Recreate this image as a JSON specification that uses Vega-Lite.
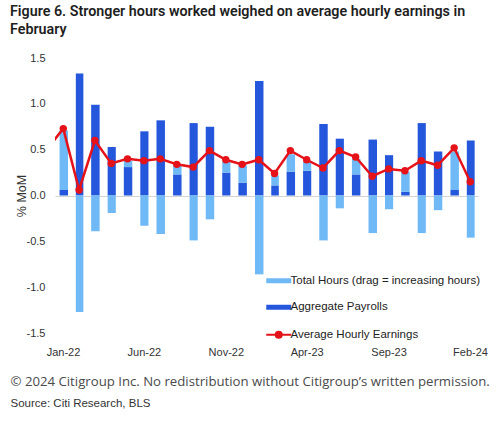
{
  "$schema": "https://vega.github.io/schema/vega-lite/v6.json",
  "width": 423,
  "height": 275,
  "autosize": {"type": "none"},
  "padding": {"left": 55, "top": 58, "right": 22, "bottom": 90},
  "background": "white",
  "title": {
    "text": ["Figure 6. Stronger hours worked weighed on average hourly earnings in", "February"],
    "anchor": "start",
    "frame": "group",
    "dx": -45,
    "offset": 15,
    "font": "Roboto",
    "fontSize": 14.3,
    "fontWeight": 600,
    "color": "#1e1e1e",
    "lineHeight": 18
  },
  "datasets": {
    "mom": [
      {"month": "2021-12", "series": "Average Hourly Earnings", "value": 0.50},
      {"month": "2022-01", "series": "Aggregate Payrolls", "value": 0.06},
      {"month": "2022-01", "series": "Total Hours (drag = increasing hours)", "value": 0.65},
      {"month": "2022-01", "series": "Average Hourly Earnings", "value": 0.73},
      {"month": "2022-02", "series": "Aggregate Payrolls", "value": 1.33},
      {"month": "2022-02", "series": "Total Hours (drag = increasing hours)", "value": -1.27},
      {"month": "2022-02", "series": "Average Hourly Earnings", "value": 0.06},
      {"month": "2022-03", "series": "Aggregate Payrolls", "value": 0.99},
      {"month": "2022-03", "series": "Total Hours (drag = increasing hours)", "value": -0.39},
      {"month": "2022-03", "series": "Average Hourly Earnings", "value": 0.60},
      {"month": "2022-04", "series": "Aggregate Payrolls", "value": 0.53},
      {"month": "2022-04", "series": "Total Hours (drag = increasing hours)", "value": -0.19},
      {"month": "2022-04", "series": "Average Hourly Earnings", "value": 0.35},
      {"month": "2022-05", "series": "Aggregate Payrolls", "value": 0.31},
      {"month": "2022-05", "series": "Total Hours (drag = increasing hours)", "value": 0.07},
      {"month": "2022-05", "series": "Average Hourly Earnings", "value": 0.40},
      {"month": "2022-06", "series": "Aggregate Payrolls", "value": 0.70},
      {"month": "2022-06", "series": "Total Hours (drag = increasing hours)", "value": -0.33},
      {"month": "2022-06", "series": "Average Hourly Earnings", "value": 0.38},
      {"month": "2022-07", "series": "Aggregate Payrolls", "value": 0.82},
      {"month": "2022-07", "series": "Total Hours (drag = increasing hours)", "value": -0.42},
      {"month": "2022-07", "series": "Average Hourly Earnings", "value": 0.40},
      {"month": "2022-08", "series": "Aggregate Payrolls", "value": 0.23},
      {"month": "2022-08", "series": "Total Hours (drag = increasing hours)", "value": 0.10},
      {"month": "2022-08", "series": "Average Hourly Earnings", "value": 0.34},
      {"month": "2022-09", "series": "Aggregate Payrolls", "value": 0.79},
      {"month": "2022-09", "series": "Total Hours (drag = increasing hours)", "value": -0.49},
      {"month": "2022-09", "series": "Average Hourly Earnings", "value": 0.31},
      {"month": "2022-10", "series": "Aggregate Payrolls", "value": 0.75},
      {"month": "2022-10", "series": "Total Hours (drag = increasing hours)", "value": -0.26},
      {"month": "2022-10", "series": "Average Hourly Earnings", "value": 0.49},
      {"month": "2022-11", "series": "Aggregate Payrolls", "value": 0.25},
      {"month": "2022-11", "series": "Total Hours (drag = increasing hours)", "value": 0.12},
      {"month": "2022-11", "series": "Average Hourly Earnings", "value": 0.39},
      {"month": "2022-12", "series": "Aggregate Payrolls", "value": 0.14},
      {"month": "2022-12", "series": "Total Hours (drag = increasing hours)", "value": 0.19},
      {"month": "2022-12", "series": "Average Hourly Earnings", "value": 0.34},
      {"month": "2023-01", "series": "Aggregate Payrolls", "value": 1.25},
      {"month": "2023-01", "series": "Total Hours (drag = increasing hours)", "value": -0.86},
      {"month": "2023-01", "series": "Average Hourly Earnings", "value": 0.39},
      {"month": "2023-02", "series": "Aggregate Payrolls", "value": 0.11},
      {"month": "2023-02", "series": "Total Hours (drag = increasing hours)", "value": 0.11},
      {"month": "2023-02", "series": "Average Hourly Earnings", "value": 0.24},
      {"month": "2023-03", "series": "Aggregate Payrolls", "value": 0.26},
      {"month": "2023-03", "series": "Total Hours (drag = increasing hours)", "value": 0.19},
      {"month": "2023-03", "series": "Average Hourly Earnings", "value": 0.49},
      {"month": "2023-04", "series": "Aggregate Payrolls", "value": 0.27},
      {"month": "2023-04", "series": "Total Hours (drag = increasing hours)", "value": 0.10},
      {"month": "2023-04", "series": "Average Hourly Earnings", "value": 0.39},
      {"month": "2023-05", "series": "Aggregate Payrolls", "value": 0.78},
      {"month": "2023-05", "series": "Total Hours (drag = increasing hours)", "value": -0.49},
      {"month": "2023-05", "series": "Average Hourly Earnings", "value": 0.30},
      {"month": "2023-06", "series": "Aggregate Payrolls", "value": 0.62},
      {"month": "2023-06", "series": "Total Hours (drag = increasing hours)", "value": -0.14},
      {"month": "2023-06", "series": "Average Hourly Earnings", "value": 0.49},
      {"month": "2023-07", "series": "Aggregate Payrolls", "value": 0.23},
      {"month": "2023-07", "series": "Total Hours (drag = increasing hours)", "value": 0.17},
      {"month": "2023-07", "series": "Average Hourly Earnings", "value": 0.42},
      {"month": "2023-08", "series": "Aggregate Payrolls", "value": 0.61},
      {"month": "2023-08", "series": "Total Hours (drag = increasing hours)", "value": -0.41},
      {"month": "2023-08", "series": "Average Hourly Earnings", "value": 0.21},
      {"month": "2023-09", "series": "Aggregate Payrolls", "value": 0.44},
      {"month": "2023-09", "series": "Total Hours (drag = increasing hours)", "value": -0.15},
      {"month": "2023-09", "series": "Average Hourly Earnings", "value": 0.29},
      {"month": "2023-10", "series": "Aggregate Payrolls", "value": 0.04},
      {"month": "2023-10", "series": "Total Hours (drag = increasing hours)", "value": 0.22},
      {"month": "2023-10", "series": "Average Hourly Earnings", "value": 0.27},
      {"month": "2023-11", "series": "Aggregate Payrolls", "value": 0.79},
      {"month": "2023-11", "series": "Total Hours (drag = increasing hours)", "value": -0.41},
      {"month": "2023-11", "series": "Average Hourly Earnings", "value": 0.38},
      {"month": "2023-12", "series": "Aggregate Payrolls", "value": 0.48},
      {"month": "2023-12", "series": "Total Hours (drag = increasing hours)", "value": -0.16},
      {"month": "2023-12", "series": "Average Hourly Earnings", "value": 0.33},
      {"month": "2024-01", "series": "Aggregate Payrolls", "value": 0.06},
      {"month": "2024-01", "series": "Total Hours (drag = increasing hours)", "value": 0.42},
      {"month": "2024-01", "series": "Average Hourly Earnings", "value": 0.52},
      {"month": "2024-02", "series": "Aggregate Payrolls", "value": 0.60},
      {"month": "2024-02", "series": "Total Hours (drag = increasing hours)", "value": -0.46},
      {"month": "2024-02", "series": "Average Hourly Earnings", "value": 0.15}
    ]
  },
  "data": {"name": "mom"},
  "config": {
    "view": {"stroke": null},
    "axis": {
      "labelFont": "Liberation Sans",
      "labelFontSize": 11,
      "labelColor": "#333333",
      "titleFont": "Liberation Sans",
      "titleFontWeight": "normal",
      "ticks": false,
      "domain": false
    }
  },
  "resolve": {"axis": {"x": "independent"}},
  "layer": [
    {
      "transform": [{"filter": "datum.series !== 'Average Hourly Earnings'"}],
      "mark": {"type": "bar", "width": {"band": 0.57}},
      "encoding": {
        "x": {
          "field": "month",
          "type": "temporal",
          "timeUnit": "utcyearmonth",
          "scale": {
            "domain": [
              {"year": 2022, "month": 1, "date": 1, "utc": true},
              {"year": 2024, "month": 3, "date": 1, "utc": true}
            ],
            "nice": false
          },
          "axis": {
            "orient": "bottom",
            "values": [
              {"year": 2022, "month": 1, "date": 16, "utc": true},
              {"year": 2022, "month": 6, "date": 16, "utc": true},
              {"year": 2022, "month": 11, "date": 16, "utc": true},
              {"year": 2023, "month": 4, "date": 16, "utc": true},
              {"year": 2023, "month": 9, "date": 16, "utc": true},
              {"year": 2024, "month": 2, "date": 15, "utc": true}
            ],
            "labelExpr": "utcFormat(datum.value, '%b-%y')",
            "grid": false,
            "labelPadding": 13,
            "title": "© 2024 Citigroup Inc. No redistribution without Citigroup’s written permission.",
            "titleFont": "Open Sans",
            "titleFontSize": 13.2,
            "titleColor": "#4a4a4a",
            "titleAnchor": "start",
            "titleAlign": "left",
            "titleBaseline": "alphabetic",
            "titleX": -45,
            "titleY": 52
          }
        },
        "y": {
          "field": "value",
          "type": "quantitative",
          "stack": "zero",
          "scale": {"domain": [-1.5, 1.5], "nice": false},
          "axis": {
            "title": "% MoM",
            "titleFontSize": 12.5,
            "titleColor": "#333333",
            "titlePadding": -2,
            "values": [-1.5, -1, -0.5, 0, 0.5, 1, 1.5],
            "labelExpr": "datum.value < 0 ? '-' + format(-datum.value, '.1f') : format(datum.value, '.1f')",
            "labelPadding": 10,
            "grid": true,
            "gridColor": {"condition": {"test": "datum.value === 0", "value": "#d4d4d4"}, "value": "transparent"},
            "gridWidth": 1.2
          }
        },
        "color": {
          "field": "series",
          "type": "nominal",
          "scale": {
            "domain": ["Total Hours (drag = increasing hours)", "Aggregate Payrolls", "Average Hourly Earnings"],
            "range": ["#6fb9f7", "#2457db", "#e5121a"]
          },
          "legend": {
            "title": null,
            "orient": "none",
            "legendX": 218,
            "legendY": 217,
            "padding": 0,
            "labelFont": "Liberation Sans",
            "labelFontSize": 11.5,
            "labelColor": "#222222",
            "labelOffset": 6,
            "labelLimit": 300,
            "rowPadding": 13.5,
            "symbolSize": 625,
            "encode": {
              "symbols": {
                "update": {
                  "shape": {"signal": "datum.value === 'Average Hourly Earnings' ? 'M-1,0H1M0.24,0A0.24,0.24,0,1,1,-0.24,0A0.24,0.24,0,1,1,0.24,0' : 'M-1,-0.2H1V0.2H-1Z'"},
                  "fill": {"scale": "color", "field": "value"},
                  "stroke": {"scale": "color", "field": "value"},
                  "strokeWidth": {"signal": "datum.value === 'Average Hourly Earnings' ? 2 : 0"},
                  "size": {"value": 625},
                  "opacity": {"value": 1}
                }
              }
            }
          }
        },
        "order": {"field": "series", "sort": "ascending"}
      }
    },
    {
      "transform": [{"filter": "datum.series === 'Average Hourly Earnings'"}],
      "mark": {"type": "line", "strokeWidth": 2.5, "clip": true},
      "encoding": {
        "x": {
          "field": "month",
          "type": "temporal",
          "timeUnit": "utcyearmonth",
          "bandPosition": 0.5,
          "axis": {
            "orient": "bottom",
            "labels": false,
            "grid": false,
            "title": "Source: Citi Research, BLS",
            "titleFont": "Liberation Sans",
            "titleFontSize": 11.5,
            "titleColor": "#333333",
            "titleAnchor": "start",
            "titleAlign": "left",
            "titleBaseline": "alphabetic",
            "titleX": -45,
            "titleY": 73
          }
        },
        "y": {"field": "value", "type": "quantitative", "axis": {"title": "% MoM"}},
        "color": {"field": "series", "type": "nominal"}
      }
    },
    {
      "transform": [{"filter": "datum.series === 'Average Hourly Earnings'"}],
      "mark": {"type": "point", "filled": true, "size": 55, "opacity": 1, "clip": true},
      "encoding": {
        "x": {
          "field": "month",
          "type": "temporal",
          "timeUnit": "utcyearmonth",
          "bandPosition": 0.5,
          "axis": null
        },
        "y": {"field": "value", "type": "quantitative", "axis": {"title": "% MoM"}},
        "color": {"field": "series", "type": "nominal"}
      }
    }
  ]
}
